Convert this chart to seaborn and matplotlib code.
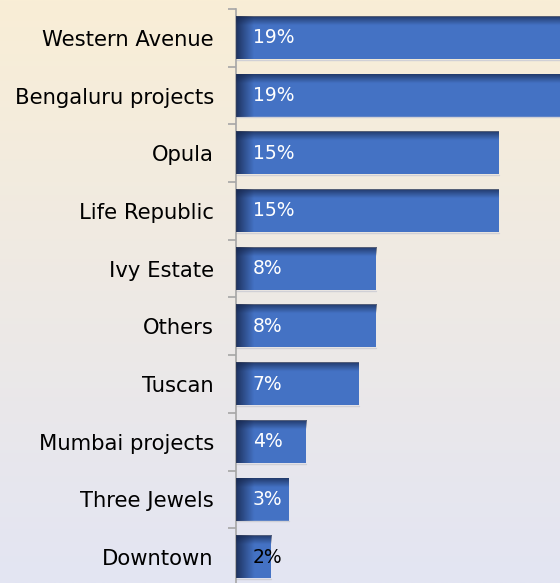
import numpy as np
import pandas as pd
import matplotlib
matplotlib.use('Agg')
import matplotlib.pyplot as plt
import seaborn as sns

# --- data ---
projects = ['Western Avenue', 'Bengaluru projects', 'Opula', 'Life Republic', 'Ivy Estate',
            'Others', 'Tuscan', 'Mumbai projects', 'Three Jewels', 'Downtown']
share = [19, 19, 15, 15, 8, 8, 7, 4, 3, 2]
share_labels = ['19%', '19%', '15%', '15%', '8%', '8%', '7%', '4%', '3%', '2%']

df = pd.DataFrame({'project': projects, 'share': share})

sns.set_style('white')
plt.rcParams['font.family'] = ['DejaVu Sans']

fig = plt.figure(figsize=(5.6, 5.83), dpi=100)

# background gradient (cream -> lavender)
bg = fig.add_axes([0, 0, 1, 1], zorder=0)
top_c = np.array([249, 238, 214]) / 255
bot_c = np.array([227, 229, 243]) / 255
t = np.linspace(0, 1, 256)[:, None, None]
grad = top_c * (1 - t) + bot_c * t
bg.imshow(grad, aspect='auto', extent=[0, 1, 0, 1], origin='upper')
bg.set_axis_off()

ax = fig.add_axes([236 / 560, -3 / 583, 1 - 236 / 560, 577 / 583], zorder=1)
ax.set_facecolor('none')

bar_w = 0.73
sns.barplot(data=df, x='share', y='project', orient='h', color='#4472C4',
            width=bar_w, saturation=1, ax=ax)
for p in ax.patches:
    p.set_zorder(1)
    p.set_linewidth(0)

# inner shadow on each bar (dark at left and top edges)
px_per_x = 17.5
for i, v in enumerate(share):
    w_px = int(v * px_per_x)
    h_px = 42
    xs = np.arange(w_px) + 0.5
    ys = np.arange(h_px) + 0.5
    left = np.clip(1 - xs / 18.0, 0, 1) * 0.85
    top = np.clip(1 - ys / 9.0, 0, 1) * 0.75
    alpha = 1 - (1 - left[None, :]) * (1 - top[:, None])
    img = np.zeros((h_px, w_px, 4))
    img[..., 0] = 0.09
    img[..., 1] = 0.15
    img[..., 2] = 0.30
    img[..., 3] = np.clip(alpha, 0, 0.9)
    ax.imshow(img, extent=[0, v, i + bar_w / 2, i - bar_w / 2], aspect='auto',
              interpolation='bilinear', zorder=3)
    # light edge under each bar
    ax.plot([0, v], [i + bar_w / 2 + 0.015] * 2, color='#d0d0d6', lw=1, zorder=2)

ax.set_xlim(0, 18.5)
ax.set_ylim(9.5, -0.5)

# value labels
for i, lab in enumerate(share_labels):
    col = 'black' if i == len(share_labels) - 1 else 'white'
    ax.annotate(lab, xy=(0, i), xytext=(12, 0), textcoords='offset points',
                va='center', ha='left', color=col, fontsize=13.5, zorder=4)

# axis styling
ax.set_xlabel('')
ax.set_ylabel('')
ax.set_xticks([])
ax.tick_params(axis='y', which='major', left=False, length=0, pad=16,
               labelsize=15.2, labelcolor='black')
ax.set_yticks(np.arange(-0.5, 10, 1), minor=True)
ax.tick_params(axis='y', which='minor', left=True, length=6, color='#a6a6a6', width=1.2)
for s in ['top', 'right', 'bottom']:
    ax.spines[s].set_visible(False)
ax.spines['left'].set_color('#a6a6a6')
ax.spines['left'].set_linewidth(1.2)

fig.savefig('out.png', dpi=100)
